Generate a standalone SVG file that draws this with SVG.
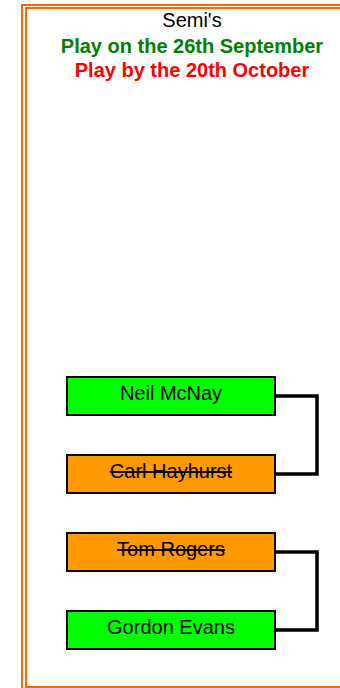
<svg xmlns="http://www.w3.org/2000/svg" width="340" height="688" viewBox="0 0 340 688">
<style>
.frame{fill:none;stroke:#FF6600;stroke-width:2}
.box{stroke:#000;stroke-width:2}
.win{fill:#00FF00}
.lose{fill:#FF9900}
.name{font-family:"Liberation Sans",Arial,sans-serif;font-size:20px;fill:#000;text-anchor:middle}
.struck{text-decoration:line-through}
.hdr{font-family:"Liberation Sans",Arial,sans-serif;font-size:20px;text-anchor:middle}
.conn{fill:none;stroke:#000;stroke-width:3.5;stroke-linejoin:miter}
</style>
<rect width="340" height="688" fill="#fff"/>
<g id="frame">
<rect class="frame" x="22" y="5" width="400" height="700"/>
<rect class="frame" x="26" y="8" width="400" height="679"/>
</g>
<g id="header">
<text class="hdr" x="192" y="26.5" fill="#000">Semi's</text>
<text class="hdr" x="192" y="53" fill="#008000" font-weight="bold">Play on the 26th September</text>
<text class="hdr" x="192" y="76.5" fill="#FF0000" font-weight="bold">Play by the 20th October</text>
</g>
<g id="connectors">
<path class="conn" d="M274 396 H317 V474 H274"/>
<path class="conn" d="M274 552 H317 V630 H274"/>
</g>
<g id="neil">
<rect class="box win" x="67" y="377" width="208" height="38"/>
<text class="name" x="171" y="400">Neil McNay</text>
</g>
<g id="carl">
<rect class="box lose" x="67" y="455" width="208" height="38"/>
<text class="name struck" x="171" y="478">Carl Hayhurst</text>
</g>
<g id="tom">
<rect class="box lose" x="67" y="533" width="208" height="38"/>
<text class="name struck" x="171" y="556">Tom Rogers</text>
</g>
<g id="gordon">
<rect class="box win" x="67" y="611" width="208" height="38"/>
<text class="name" x="171" y="634">Gordon Evans</text>
</g>
</svg>
